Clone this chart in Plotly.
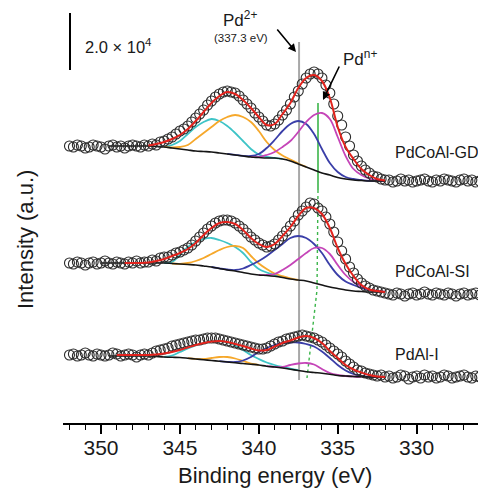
import plotly.graph_objects as go

# ---------------- data (intensity in a.u.; 57 a.u. = 2.0e4 counts) ----------------
ENERGY = [round(352.0 - 0.25 * i, 2) for i in range(105)]      # measured grid (eV)
FIT_E = [round(350.0 - 0.5 * i, 1) for i in range(37)]          # fit grid (eV)

N = None
# --- PdCoAl-GD ---
GD_DATA = [36, 35, 37, 36, 34, 35, 37, 36, 35, 33, 36, 37, 35, 36, 34, 36, 37, 36, 35, 37, 36,
           38, 37, 40, 41, 43, 45, 48, 51, 53, 56, 60, 64, 68, 72, 77, 81, 85, 88, 90, 91,
           90, 89, 86, 82, 78, 74, 69, 65, 61, 57, 56, 58, 62, 67, 72, 78, 85, 91, 98, 104,
           108, 110, 108, 104, 97, 89, 78, 66, 57, 45, 36, 27, 21, 16, 12, 9, 6, 5, 3, 2,
           2, 0, 1, 3, 1, 2, 0, 1, 2, 3, 1, 0, 2, 1, 3, 2, 1, 0, 2, 3, 1, 2, 0, 1]
GD_BG = [N, 36, 36, 36, 36, 36, 36, 35.5, 35, 34, 33, 32, 31, 30.5, 30, 29, 28, 27, 26, 25,
         24.5, 24, 24, 23, 21, 18, 15, 12, 9, 7, 4.5, 3, 2, 1.5, 1, 1, 1]
GD_FIT = [N, N, N, N, N, N, 36.5, 38, 40, 43, 47, 53, 61, 70, 79, 86, 90, 88, 82, 74,
          65, 57, 58, 68, 79, 94, 104, 107, 101, 84, 55, 35, 23, 13, 7, 3, 1.5]
GD_C1 = [N] * 8 + [35, 37, 41, 48, 55, 60, 63, 61, 56, 49, 41, 33, 27.5, 25, 24.2, 23.2] + [N] * 13
GD_C2 = [N] * 8 + [35.2, 34.5, 35, 37, 43, 49, 55, 61, 65, 67, 65, 60, 51, 40, 32, 26.5,
                   22.5, 18.5, 15.2] + [N] * 10
GD_C3 = [N] * 16 + [28.2, 27.2, 26.2, 26, 28, 34, 42, 51, 58, 61, 58, 48, 33, 19, 10, 5, 3,
                    2, 1.2, 1, 1]
GD_C4 = [N] * 19 + [25.2, 25, 27, 30, 35, 41, 50, 60, 67, 69, 63, 45, 26, 13, 7, 3.5, 1.8, 1.2]

# --- PdCoAl-SI ---
SI_DATA = [32, 31, 33, 32, 30, 32, 33, 31, 32, 34, 32, 31, 33, 32, 31, 33, 32, 34, 32, 33, 33,
           35, 34, 37, 38, 38, 40, 42, 43, 45, 47, 50, 54, 58, 62, 66, 69, 72, 74, 75, 75,
           74, 72, 69, 66, 62, 58, 55, 52, 50, 48, 49, 51, 55, 59, 64, 69, 74, 80, 84, 88,
           92, 91, 87, 84, 78, 71, 63, 53, 44, 36, 28, 22, 16, 12, 9, 7, 5, 4, 3, 2,
           1, 0, 2, 1, -1, 1, 2, 0, 1, 3, 1, 0, 2, 1, 0, 2, 1, -1, 1, 2, 0, 1, 2, 0]
SI_BG = [32, 32, 32, 32, 32, 32, 32, 32, 32, 31.5, 31, 30.5, 30, 29, 28, 26.5, 25, 24, 22.5,
         21, 20, 19.5, 18.7, 17.5, 16, 15, 14, 12, 10, 8, 6.5, 5, 4, 3.5, 3, 3, 3]
SI_FIT = [N, N, N, 32, 32, 32, 32.5, 34, 36, 39, 42, 46, 52, 60, 67, 72, 73, 71, 65, 57,
          51, 48, 51, 59, 68, 79, 87, 87, 81, 67, 47, 31, 19, 10, 5.5, 4, 3]
SI_C1 = [N] * 8 + [32, 33, 40, 48, 53, 56, 57, 55, 52, 48, 42, 33, 26, 22.5, 20, 18] + [N] * 13
SI_C2 = [N] * 9 + [31.5, 31.2, 32, 34, 37, 41, 45, 48, 49, 47, 39, 31.5, 26, 21.5, 18.8,
                   16.6, 15.2] + [N] * 11
SI_C3 = [N] * 14 + [28, 26.7, 25.5, 25, 26.5, 30, 34, 39, 45, 51, 57, 59, 57, 51, 42, 30, 20,
                    13.5, 10, 7, 5, 4, 3]
SI_C4 = [N] * 20 + [20.2, 20, 21, 25, 30, 36, 42, 47, 47, 41, 30, 20, 13, 8.5, 5.5, 4, 3]

# --- PdAl-I ---
AL_DATA = [22, 23, 21, 22, 24, 22, 21, 23, 22, 21, 22, 24, 23, 21, 22, 23, 22, 20, 22, 23, 22,
           24, 26, 27, 28, 29, 31, 32, 33, 34, 35, 36, 37, 37, 38, 39, 39, 39, 38, 37, 36,
           35, 34, 33, 32, 31, 30, 29, 28, 28, 29, 31, 33, 35, 36, 38, 39, 40, 41, 42, 41,
           40, 39, 37, 35, 32, 29, 26, 23, 20, 16, 13, 10, 7, 6, 4, 3, 2, 1, 2, 0,
           1, -1, 0, 2, 1, -2, 0, 1, -1, 2, 0, 1, -1, 0, 2, 1, -1, 0, 1, 2, 0, -1, 1, 0]
AL_BG = [N, 21, 21, 21, 21, 21, 21, 20.5, 20, 19.7, 19.5, 18.8, 18, 17.3, 16.5, 15.8, 15, 14.2,
         13.5, 12.8, 12, 10.8, 10, 9, 7.8, 6.5, 5.3, 4.5, 3.8, 2.8, 1.5, 1, 0.5, 0.2, 0, 0, 0]
AL_FIT = [N, N, 22, 22, 22, 22, 22, 22.5, 23.5, 25, 27, 29.5, 32, 34, 35.5, 36, 35, 33, 31,
          28.5, 26.5, 27, 30.5, 34, 36.5, 39.5, 41, 39, 34, 26, 19, 12, 7.5, 4.5, 2, 0.5, 0]
AL_C1 = [N] * 8 + [20, 21.5, 25, 28.5, 31.5, 34, 36, 36, 34.5, 31.5, 27, 22, 18, 14.5, 12, 10,
                   8.3, 6.8] + [N] * 11
AL_C2 = [N] * 11 + [18.8, 18.1, 18, 19, 20, 20, 18.5, 16, 13.5, 12.2] + [N] * 16
AL_C3 = [N] * 15 + [15.8, 15.2, 15, 16.5, 20, 25, 29, 32, 34, 34.5, 34.5, 33, 30.5, 25.5, 19,
                    12, 6.5, 3, 1, 0.2, 0, 0]
AL_C4 = [N] * 21 + [10.8, 10.2, 10, 12, 13.5, 14, 12.5, 8, 4, 2, 1, 0.5, 0.2] + [N] * 3

SAMPLES = ["PdCoAl-GD", "PdCoAl-SI", "PdAl-I"]
OFFSETS = [241, 128, 46]          # vertical stacking of the spectra
SCALE_BAR = 57                    # a.u. equivalent of 2.0 x 10^4 counts
PD2_E = 337.45                    # Pd2+ reference line

# ---------------- layout helpers ----------------
W, H = 478, 488
ML, MR, MT, MB = 63, 0, 0, 65
X_RANGE = [352.41, 326.11]
Y_RANGE = [0, 423]
PW = W - ML - MR
PH = H - MT - MB


def ex(px):
    return X_RANGE[0] + (px - ML) / PW * (X_RANGE[1] - X_RANGE[0])


def ey(py):
    return Y_RANGE[1] - (py - MT) / PH * (Y_RANGE[1] - Y_RANGE[0])


def paper_x(px):
    return (px - ML) / PW


def paper_y(py):
    return 1 - (py - MT) / PH


def shift(arr, off):
    return [None if v is None else v + off for v in arr]


C_CYAN = "#3ec4c7"
C_ORANGE = "#f6a82b"
C_BLUE = "#3a3ea8"
C_MAG = "#c545b8"
C_RED = "#e3231d"
C_BG = "#151515"
FONT = "Liberation Sans, Arial, sans-serif"

fig = go.Figure()

# reference lines (under the curves)
fig.add_trace(go.Scatter(x=[PD2_E, PD2_E], y=[ey(380), ey(42)], mode="lines",
                         line=dict(color="#a8a8a8", width=2), hoverinfo="skip"))
fig.add_trace(go.Scatter(x=[ex(318), ex(318)], y=[ey(190), ey(103)], mode="lines",
                         line=dict(color="#3bb54a", width=1.6), hoverinfo="skip"))
fig.add_trace(go.Scatter(x=[ex(318), ex(317), ex(307)], y=[ey(190), ey(290), ey(378)],
                         mode="lines", line=dict(color="#3bb54a", width=1.4, dash="dot"),
                         hoverinfo="skip"))

spectra = [
    (GD_DATA, GD_BG, GD_FIT, GD_C1, GD_C2, GD_C3, GD_C4),
    (SI_DATA, SI_BG, SI_FIT, SI_C1, SI_C2, SI_C3, SI_C4),
    (AL_DATA, AL_BG, AL_FIT, AL_C1, AL_C2, AL_C3, AL_C4),
]
for (data, bg, fit, c1, c2, c3, c4), off, name in zip(spectra, OFFSETS, SAMPLES):
    for comp, col in ((c1, C_CYAN), (c2, C_ORANGE), (c3, C_BLUE), (c4, C_MAG)):
        fig.add_trace(go.Scatter(x=FIT_E, y=shift(comp, off), mode="lines",
                                 line=dict(color=col, width=1.8, shape="spline", smoothing=1.0),
                                 connectgaps=False, name=name))
    fig.add_trace(go.Scatter(x=FIT_E, y=shift(bg, off), mode="lines",
                             line=dict(color=C_BG, width=1.6, shape="spline", smoothing=1.0),
                             name=name + " background"))
    fig.add_trace(go.Scatter(x=ENERGY, y=shift(data, off), mode="markers",
                             marker=dict(symbol="circle-open", size=10, color="#2a2a2a",
                                         line=dict(width=1.1)),
                             name=name + " data"))
    fig.add_trace(go.Scatter(x=FIT_E, y=shift(fit, off), mode="lines",
                             line=dict(color=C_RED, width=2, shape="spline", smoothing=1.0),
                             name=name + " fit"))

# scale bar
fig.add_trace(go.Scatter(x=[ex(70), ex(70)], y=[ey(70), ey(70) + SCALE_BAR], mode="lines",
                         line=dict(color="black", width=2), hoverinfo="skip"))

annotations = [
    dict(x=ex(83), y=ey(46), text="2.0 × 10<sup>4</sup>", xanchor="left", yanchor="middle",
         showarrow=False, font=dict(size=16.5)),
    dict(x=ex(240), y=ey(19), text="Pd<sup>2+</sup>", showarrow=False, font=dict(size=17)),
    dict(x=ex(241), y=ey(38), text="(337.3 eV)", showarrow=False, font=dict(size=11.5)),
    dict(x=ex(296), y=ey(52), ax=-20, ay=-24, text="", showarrow=True, arrowhead=2,
         arrowsize=1, arrowwidth=1.6, arrowcolor="black"),
    dict(x=ex(360), y=ey(58), text="Pd<sup>n+</sup>", showarrow=False, font=dict(size=17)),
    dict(x=ex(323), y=ey(100), ax=17, ay=-35, text="", showarrow=True, arrowhead=2,
         arrowsize=1, arrowwidth=1.6, arrowcolor="black"),
    dict(x=paper_x(25), y=paper_y(240), xref="paper", yref="paper", text="Intensity (a.u.)",
         textangle=-90, showarrow=False, xanchor="center", yanchor="middle",
         font=dict(size=22)),
    dict(x=paper_x(275), y=paper_y(475), xref="paper", yref="paper",
         text="Binding energy (eV)", showarrow=False, xanchor="center", yanchor="middle",
         font=dict(size=22)),
]
for lab, py in zip(SAMPLES, [152, 271, 354]):
    annotations.append(dict(x=ex(393), y=ey(py), text=lab, xanchor="left", yanchor="middle",
                            showarrow=False, font=dict(size=16)))
for a in annotations:
    a.setdefault("xref", "x")
    a.setdefault("yref", "y")
    if a.get("showarrow"):
        a["axref"] = "pixel"
        a["ayref"] = "pixel"

fig.update_layout(
    width=W, height=H,
    margin=dict(l=ML, r=MR, t=MT, b=MB, pad=0),
    paper_bgcolor="white", plot_bgcolor="white",
    showlegend=False,
    font=dict(family=FONT, color="#1a1a1a"),
    annotations=annotations,
    xaxis=dict(range=X_RANGE, showgrid=False, zeroline=False, showline=True,
               linecolor="black", linewidth=1.6, ticks="outside", ticklen=9, tickwidth=1.6,
               tickcolor="black", tick0=0, dtick=5, tickfont=dict(size=21),
               ticklabelstandoff=-4,
               minor=dict(dtick=1, tick0=0, ticks="outside", ticklen=5, tickwidth=1.4,
                          tickcolor="black")),
    yaxis=dict(range=Y_RANGE, visible=False, fixedrange=True),
)

fig.write_html("out.html")
